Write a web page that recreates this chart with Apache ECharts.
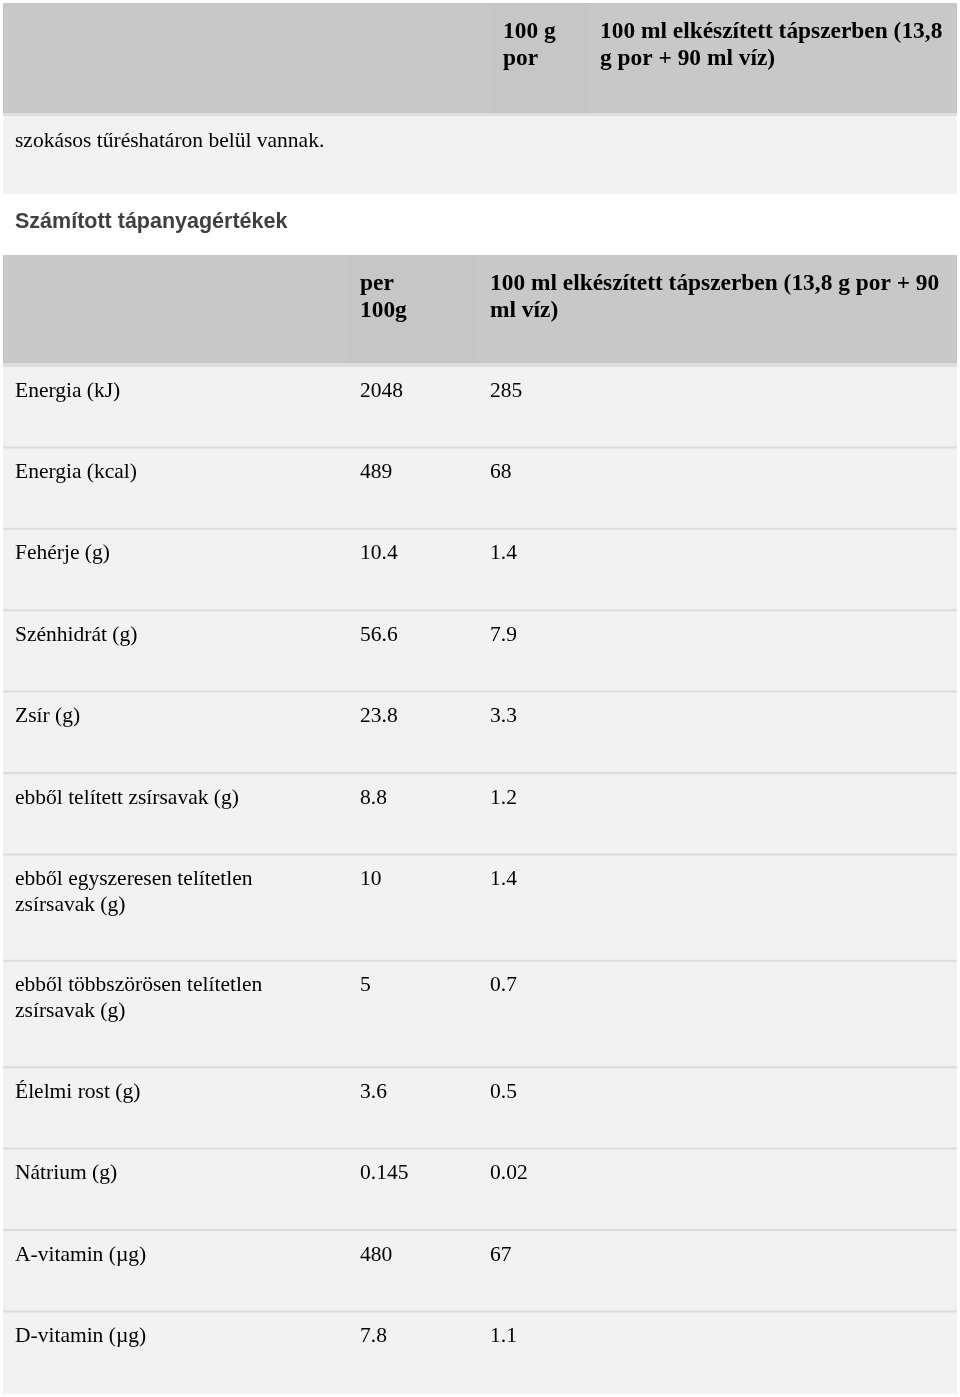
<!DOCTYPE html>
<html><head><meta charset="utf-8">
<script src="https://cdn.jsdelivr.net/npm/echarts@6/dist/echarts.min.js"></script>
<style>html,body{margin:0;padding:0;background:#fff}#c{width:960px;height:1397px}</style>
</head><body><div id="c"></div>
<script>
// ---- data ----
const topHeader = ['', '100 g\npor', '100 ml elkészített tápszerben (13,8\ng por + 90 ml víz)'];
const noteText = 'szokásos tűréshatáron belül vannak.';
const sectionTitle = 'Számított tápanyagértékek';
const header = ['', 'per\n100g', '100 ml elkészített tápszerben (13,8 g por + 90\nml víz)'];
const nutrients = ['Energia (kJ)', 'Energia (kcal)', 'Fehérje (g)', 'Szénhidrát (g)', 'Zsír (g)',
  'ebből telített zsírsavak (g)', 'ebből egyszeresen telítetlen\nzsírsavak (g)',
  'ebből többszörösen telítetlen\nzsírsavak (g)', 'Élelmi rost (g)', 'Nátrium (g)', 'A-vitamin (µg)', 'D-vitamin (µg)'];
const per100g = [2048, 489, 10.4, 56.6, 23.8, 8.8, 10, 5, 3.6, 0.145, 480, 7.8];
const per100ml = [285, 68, 1.4, 7.9, 3.3, 1.2, 1.4, 0.7, 0.5, 0.02, 67, 1.1];

// ---- layout ----
const W = 960, H = 1397;
const L = 3, R = 957;
const serif = '"Liberation Serif", "Times New Roman", serif';
const sans = '"Liberation Sans", Arial, sans-serif';
const FS = 21.5, BFS = 23.4, LH = 26, BLH = 27;
const firstRowTop = 367, singleH = 81.4, lineStep = 25;
const rowTops = [];
(function(){ let y = firstRowTop; nutrients.forEach(n => { rowTops.push(y); y += singleH + (n.split('\n').length - 1) * lineStep; }); rowTops.push(y); })();
const endY = 1394;

const chart = echarts.init(document.getElementById('c'), null, {renderer: 'canvas'});

function rect(api, x0, y0, x1, y1, fill) {
  const p0 = api.coord([x0, y0]), p1 = api.coord([x1, y1]);
  return {type: 'rect', shape: {x: p0[0], y: p0[1], width: p1[0] - p0[0], height: p1[1] - p0[1]}, style: {fill: fill}};
}
function txt(api, x, y, s, font, fill, lh) {
  const p = api.coord([x, y]);
  return {type: 'text', style: {text: s, x: p[0], y: p[1], font: font, fill: fill || '#000', lineHeight: lh || LH, verticalAlign: 'top', align: 'left'}};
}

const headerItem = function (params, api) {
  const ch = [];
  // top header block
  ch.push(rect(api, L, 3, R, 113, '#c8c8c8'));
  ch.push(rect(api, 490, 3, 588, 113, '#c6c6c6'));
  ch.push(rect(api, L, 113, R, 116, '#dedede'));
  ch.push(rect(api, L, 116, R, 194, '#f2f2f2'));
  ch.push(txt(api, 503, 18, topHeader[1], 'bold ' + BFS + 'px ' + serif, '#000', BLH));
  ch.push(txt(api, 600, 18, topHeader[2], 'bold ' + BFS + 'px ' + serif, '#000', BLH));
  ch.push(txt(api, 15, 128, noteText, FS + 'px ' + serif));
  // section title
  ch.push(txt(api, 15, 209, sectionTitle, 'bold 21.5px ' + sans, '#404040'));
  // second header
  ch.push(rect(api, L, 255, R, 363, '#c8c8c8'));
  ch.push(rect(api, 347, 255, 478, 363, '#c6c6c6'));
  ch.push(rect(api, L, 363, R, 367, '#dedede'));
  ch.push(txt(api, 360, 270, header[1], 'bold ' + BFS + 'px ' + serif, '#000', BLH));
  ch.push(txt(api, 490, 270, header[2], 'bold ' + BFS + 'px ' + serif, '#000', BLH));
  // body background
  ch.push(rect(api, L, firstRowTop, R, endY, '#f2f2f2'));
  return {type: 'group', children: ch};
};

const rowItem = function (params, api) {
  const i = params.dataIndex;
  const top = rowTops[i];
  const ch = [];
  if (i > 0) ch.push(rect(api, L, top - 2, R, top, '#dcdcdc'));
  ch.push(txt(api, 15, top + 11, nutrients[i], FS + 'px ' + serif));
  ch.push(txt(api, 360, top + 11, String(per100g[i]), FS + 'px ' + serif));
  ch.push(txt(api, 490, top + 11, String(per100ml[i]), FS + 'px ' + serif));
  return {type: 'group', children: ch};
};

chart.setOption({
  animation: false,
  backgroundColor: '#fff',
  grid: {left: 0, right: 0, top: 0, bottom: 0},
  xAxis: {type: 'value', min: 0, max: W, show: false},
  yAxis: {type: 'value', min: 0, max: H, inverse: true, show: false},
  series: [
    {type: 'custom', renderItem: headerItem, data: [[0, 0]], silent: true, z: 1},
    {type: 'custom', renderItem: rowItem, data: nutrients.map((n, i) => [i, rowTops[i]]), silent: true, z: 2}
  ]
});
</script></body></html>
